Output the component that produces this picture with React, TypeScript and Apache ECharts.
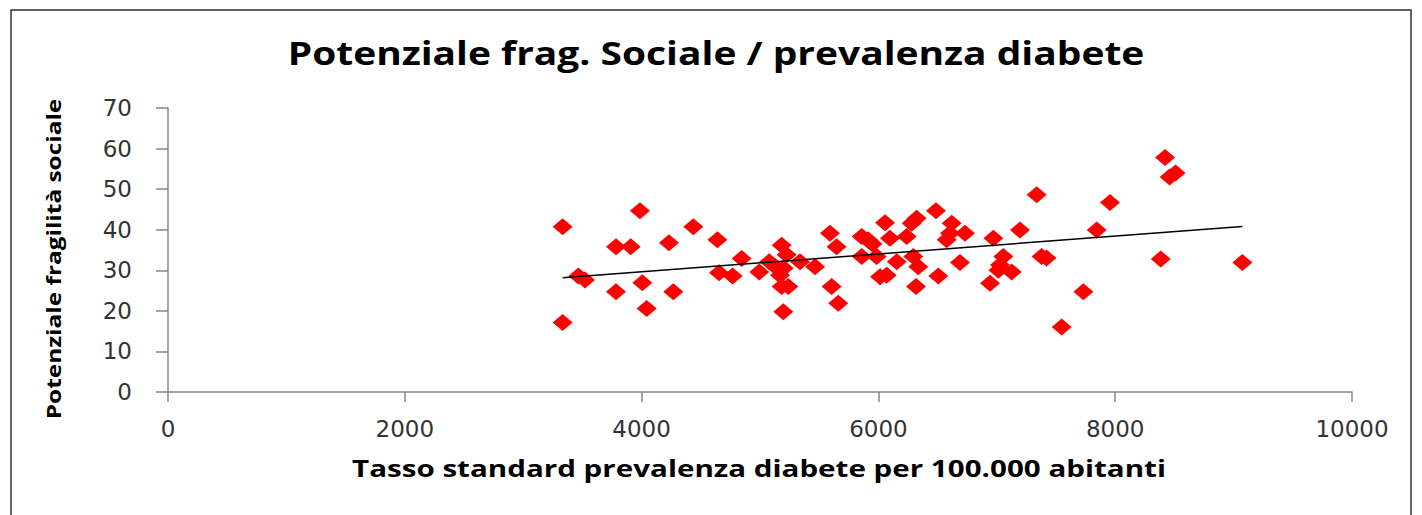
import React, { useEffect, useRef } from "react";
import * as echarts from "echarts";

const titleText = "Potenziale frag. Sociale / prevalenza diabete";
const xAxisName = "Tasso standard prevalenza diabete per 100.000 abitanti";
const yAxisName = "Potenziale fragilità sociale";

const xTicks = [0, 2000, 4000, 6000, 8000, 10000];
const yTicks = [0, 10, 20, 30, 40, 50, 60, 70];

// prevalenza diabete (x) / potenziale fragilità sociale (y)
const prevalenza = [
  3333, 3986, 3784, 3908, 4231, 4437, 4640, 3466, 3522, 3784, 4006, 4043, 4268, 3333, 4654, 4769,
  4845, 4994, 5078, 5183, 5225, 5169, 5183, 5239, 5197, 5338, 5465, 5591, 5647, 5605, 5661, 5859,
  5912, 5859, 5985, 6056, 6098, 6155, 6014, 6070, 6239, 6281, 6323, 6295, 6337, 6318, 5125, 5200,
  5950, 7337, 6486, 6619, 6605, 6577, 6731, 6971, 7196, 7844, 6689, 6506, 7055, 7027, 7126, 7014,
  6943, 7378, 7420, 7731, 7548, 8421, 8460, 8510, 7956, 8385, 9074,
];
const fragilita = [
  40.7, 44.7, 35.8, 35.8, 36.8, 40.7, 37.5, 28.6, 27.6, 24.7, 26.9, 20.6, 24.7, 17.1, 29.4, 28.6,
  32.9, 29.6, 32.1, 36.2, 33.8, 28.8, 26.0, 26.0, 19.8, 32.1, 30.9, 39.1, 35.8, 26.0, 21.9, 38.3,
  37.5, 33.4, 33.4, 41.7, 37.9, 32.1, 28.4, 28.8, 38.3, 41.6, 42.8, 33.4, 30.9, 26.0, 31.0, 30.5,
  36.5, 48.6, 44.7, 41.6, 39.1, 37.5, 39.1, 37.9, 39.9, 39.9, 31.9, 28.6, 33.4, 31.3, 29.6, 30.0,
  26.8, 33.4, 33.0, 24.7, 16.0, 57.8, 53.0, 54.0, 46.7, 32.8, 31.9,
];

function regression(xs: number[], ys: number[]) {
  const n = xs.length;
  let sx = 0, sy = 0, sxx = 0, sxy = 0;
  for (let i = 0; i < n; i++) {
    sx += xs[i]; sy += ys[i]; sxx += xs[i] * xs[i]; sxy += xs[i] * ys[i];
  }
  const slope = (n * sxy - sx * sy) / (n * sxx - sx * sx);
  const intercept = (sy - slope * sx) / n;
  return { slope, intercept };
}

export default function App() {
  const ref = useRef<HTMLDivElement>(null);
  useEffect(() => {
    if (!ref.current) return;
    const chart = echarts.init(ref.current, undefined, { renderer: "svg" });
    const pts = prevalenza.map((x, i) => [x, fragilita[i]]);
    const { slope, intercept } = regression(prevalenza, fragilita);
    const xMin = Math.min(...prevalenza);
    const xMax = Math.max(...prevalenza);
    const trend = [
      [xMin, intercept + slope * xMin],
      [xMax, intercept + slope * xMax],
    ];
    const labelFont = "DejaVu Sans";
    const boldFont = "Open Sans";
    chart.setOption({
      animation: false,
      backgroundColor: "#ffffff",
      grid: { left: 168, right: 70, top: 108, bottom: 123, containLabel: false },
      graphic: [
        {
          type: "rect",
          shape: { x: 11, y: 10, width: 1400, height: 520 },
          style: { fill: "none", stroke: "#333", lineWidth: 1.5 },
          silent: true,
        },
        {
          type: "text",
          x: 716,
          y: 52,
          scaleX: 1.217,
          style: {
            text: titleText,
            fontFamily: boldFont,
            fontWeight: "bold",
            fontSize: 32,
            fill: "#000",
            textAlign: "center",
            textVerticalAlign: "middle",
          },
          silent: true,
        },
        {
          type: "text",
          x: 759,
          y: 468,
          scaleX: 1.286,
          style: {
            text: xAxisName,
            fontFamily: boldFont,
            fontWeight: "bold",
            fontSize: 23,
            fill: "#000",
            textAlign: "center",
            textVerticalAlign: "middle",
          },
          silent: true,
        },
        {
          type: "text",
          x: 53,
          y: 259,
          rotation: Math.PI / 2,
          scaleX: 1.22,
          style: {
            text: yAxisName,
            fontFamily: boldFont,
            fontWeight: "bold",
            fontSize: 20,
            fill: "#000",
            textAlign: "center",
            textVerticalAlign: "middle",
          },
          silent: true,
        },
      ],
      xAxis: {
        type: "value",
        min: xTicks[0],
        max: xTicks[xTicks.length - 1],
        interval: 2000,
        axisLine: { show: true, lineStyle: { color: "#868686", width: 1.5 } },
        axisTick: { show: true, inside: false, length: 10, lineStyle: { color: "#868686", width: 1.5 } },
        axisLabel: {
          margin: 25,
          fontFamily: labelFont,
          fontSize: 23,
          color: "#333",
          formatter: (v: number) => String(v),
        },
        splitLine: { show: false },
      },
      yAxis: {
        type: "value",
        min: yTicks[0],
        max: yTicks[yTicks.length - 1],
        interval: 10,
        axisLine: { show: true, lineStyle: { color: "#868686", width: 1.5 } },
        axisTick: { show: true, inside: false, length: 12, lineStyle: { color: "#868686", width: 1.5 } },
        axisLabel: {
          margin: 36,
          fontFamily: labelFont,
          fontSize: 23,
          color: "#333",
          formatter: (v: number) => String(v),
        },
        splitLine: { show: false },
      },
      series: [
        {
          type: "scatter",
          data: pts,
          symbol: "diamond",
          symbolSize: [20, 17],
          itemStyle: { color: "#ff0000", opacity: 1 },
          z: 2,
        },
        {
          type: "line",
          data: trend,
          showSymbol: false,
          symbol: "none",
          lineStyle: { color: "#000", width: 1.5 },
          z: 3,
        },
      ],
    });
    return () => chart.dispose();
  }, []);
  return (
    <div
      ref={ref}
      style={{ position: "absolute", left: 0, top: 0, width: 1422, height: 515 }}
    />
  );
}
